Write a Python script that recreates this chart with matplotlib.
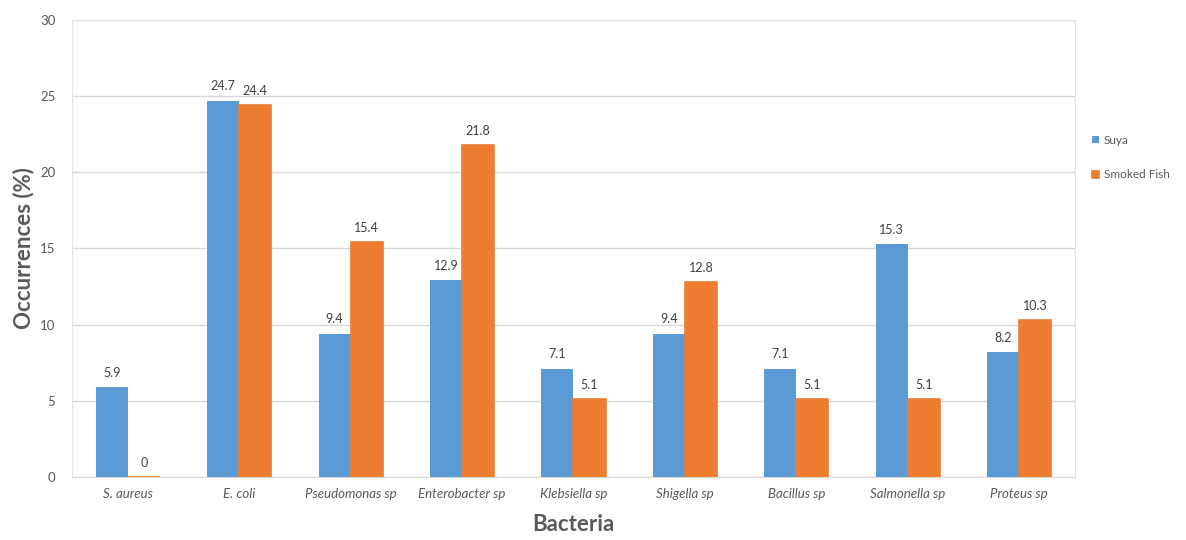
import matplotlib.pyplot as plt
import numpy as np

plt.rcParams['font.family'] = ['Lato', 'DejaVu Sans']

bacteria = ['S. aureus', 'E. coli', 'Pseudomonas sp', 'Enterobacter sp', 'Klebsiella sp',
            'Shigella sp', 'Bacillus sp', 'Salmonella sp', 'Proteus sp']
suya = [5.9, 24.7, 9.4, 12.9, 7.1, 9.4, 7.1, 15.3, 8.2]
smoked_fish = [0, 24.4, 15.4, 21.8, 5.1, 12.8, 5.1, 5.1, 10.3]
y_ticks = [0, 5, 10, 15, 20, 25, 30]

blue = '#5B9BD5'
orange = '#ED7D31'
grey_text = '#595959'

fig = plt.figure(figsize=(11.86, 5.4), dpi=100)
ax = fig.add_axes([0.0607, 0.1167, 0.8457, 0.8463])

x = np.arange(len(bacteria))
w = 0.288
b1 = ax.bar(x - w / 2, suya, w, color=blue, label='Suya', zorder=3)
b2 = ax.bar(x + w / 2, smoked_fish, w, color=orange, edgecolor=orange, linewidth=1.2,
            label='Smoked Fish', zorder=3)

for bars in (b1, b2):
    for rect in bars:
        h = rect.get_height()
        ax.annotate(f'{h:g}', (rect.get_x() + rect.get_width() / 2, h),
                    xytext=(0, 6), textcoords='offset points', ha='center', va='bottom',
                    fontsize=9, color='#404040')

ax.set_xlim(-0.5, len(bacteria) - 0.5)
ax.set_ylim(0, 30)
ax.set_yticks(y_ticks)
ax.set_xticks(x)
ax.set_xticklabels(bacteria, fontstyle='italic', fontsize=9.5, color=grey_text)
ax.tick_params(axis='y', labelsize=9.5, labelcolor=grey_text, length=0, pad=12)
ax.tick_params(axis='x', length=0, pad=8)
ax.grid(axis='y', color='#D9D9D9', linewidth=1, zorder=0)
for s in ax.spines.values():
    s.set_color('#E3E3E3')
ax.spines['bottom'].set_color('#D9D9D9')

ax.set_ylabel('Occurrences (%)', fontsize=16, fontweight='bold', color=grey_text, labelpad=4)
ax.set_xlabel('Bacteria', fontsize=16, fontweight='bold', color=grey_text, labelpad=10)

fig.legend(handles=[b1, b2], loc='upper left', bbox_to_anchor=(0.912, 0.77),
           frameon=False, fontsize=8.5, handlelength=0.6, handleheight=0.6,
           handletextpad=0.4, labelspacing=2.0, labelcolor=grey_text)

fig.savefig('out.png', dpi=100, facecolor='white')
